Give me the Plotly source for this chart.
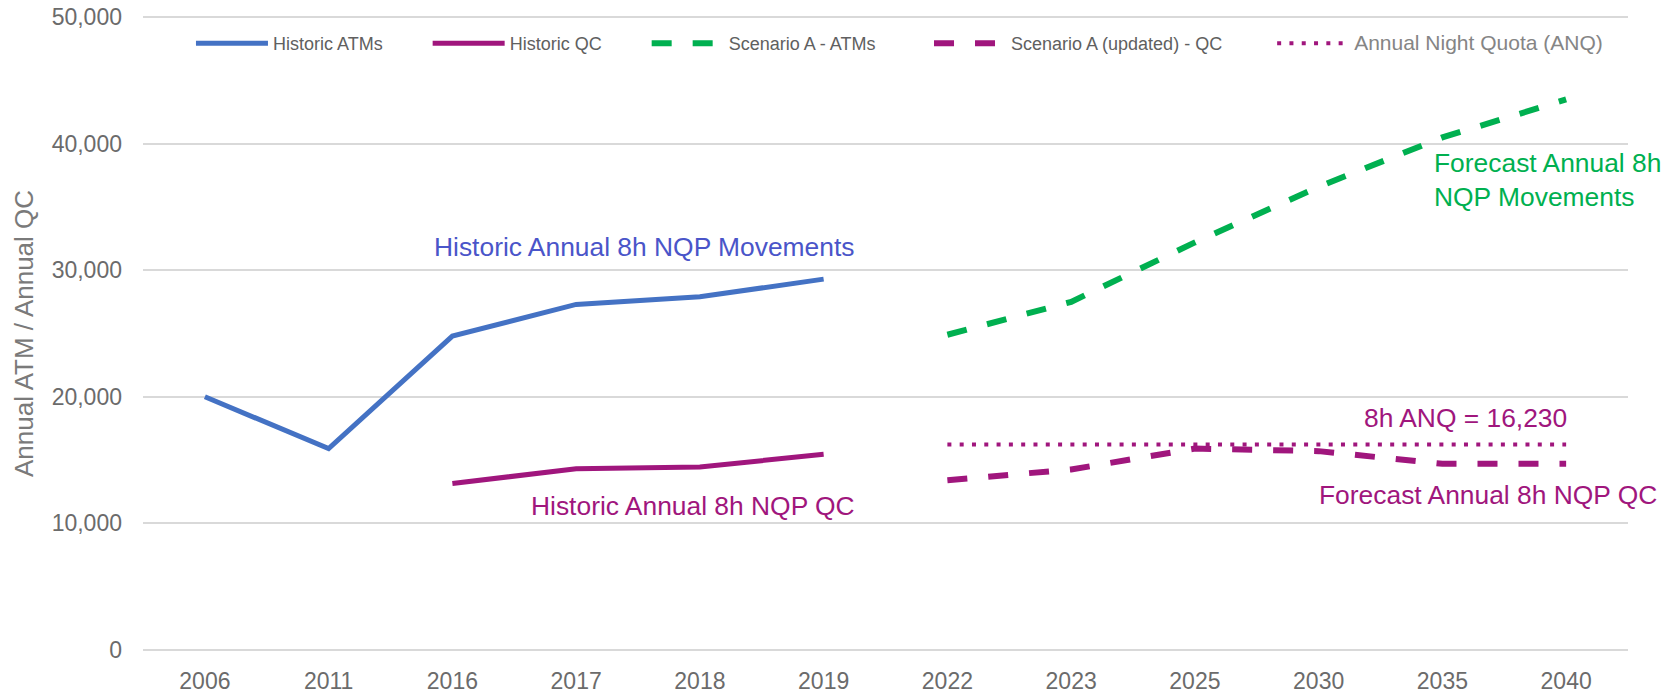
import plotly.graph_objects as go

years = ["2006", "2011", "2016", "2017", "2018", "2019",
         "2022", "2023", "2025", "2030", "2035", "2040"]

hist_years = ["2006", "2011", "2016", "2017", "2018", "2019"]
hist_atms = [20000, 15900, 24800, 27300, 27900, 29300]

hist_qc_years = ["2016", "2017", "2018", "2019"]
hist_qc = [13150, 14300, 14450, 15450]

fc_years = ["2022", "2023", "2025", "2030", "2035", "2040"]
scen_a_atms = [24900, 27500, 32200, 36600, 40500, 43500]
scen_a_qc = [13400, 14250, 15900, 15700, 14700, 14700]
anq = [16230, 16230, 16230, 16230, 16230, 16230]

BLUE = "#4472C4"
MAG = "#A0167D"
GREEN = "#00B050"
TXT_BLUE = "#4A55C9"
FONT = "Liberation Sans, Arial, sans-serif"
NB = "\u00a0"

fig = go.Figure()
fig.add_trace(go.Scatter(x=hist_years, y=hist_atms, mode="lines", name="Historic ATMs" + NB * 8,
                         line=dict(color=BLUE, width=5)))
fig.add_trace(go.Scatter(x=hist_qc_years, y=hist_qc, mode="lines", name="Historic QC" + NB * 8,
                         line=dict(color=MAG, width=5)))
fig.add_trace(go.Scatter(x=fc_years, y=scen_a_atms, mode="lines",
                         name="Scenario A - ATMs" + NB * 9 + "\u2009",
                         line=dict(color=GREEN, width=6, dash="20px,21px")))
fig.add_trace(go.Scatter(x=fc_years, y=scen_a_qc, mode="lines",
                         name="Scenario A (updated) - QC" + NB * 9,
                         line=dict(color=MAG, width=6, dash="20px,21px")))
fig.add_trace(go.Scatter(x=fc_years, y=anq, mode="lines",
                         name="<span style='font-size:21px;color:#858585'>Annual Night Quota (ANQ)</span>",
                         line=dict(color=MAG, width=4, dash="4px,8.3px")))

ann_font = dict(family=FONT, size=26.4)
annotations = [
    dict(x=5.26, y=31850, text="Historic Annual 8h NQP Movements", xanchor="right",
         font=dict(ann_font, color=TXT_BLUE)),
    dict(x=5.27, y=11400, text="Historic Annual 8h NQP QC", xanchor="right",
         font=dict(ann_font, color=MAG)),
    dict(x=9.92, y=37140, text="Forecast Annual 8h<br>NQP Movements", xanchor="left", align="left",
         font=dict(ann_font, color=GREEN)),
    dict(x=11.02, y=18300, text="8h ANQ = 16,230", xanchor="right",
         font=dict(ann_font, color=MAG)),
    dict(x=11, xshift=93, y=12250, text="Forecast Annual 8h NQP QC", xanchor="right",
         font=dict(ann_font, color=MAG)),
]
for a in annotations:
    a.update(xref="x", yref="y", showarrow=False, yanchor="middle")

fig.update_layout(
    width=1680, height=695,
    margin=dict(l=135, r=60, t=7.7, b=52.1, autoexpand=False),
    paper_bgcolor="white", plot_bgcolor="white",
    font=dict(family=FONT, color="#6b6b6b"),
    showlegend=True,
    legend=dict(orientation="h", x=0.0323, y=0.9565, xanchor="left", yanchor="middle",
                bgcolor="rgba(0,0,0,0)", font=dict(family=FONT, size=18, color="#606060"),
                itemwidth=72, traceorder="normal"),
    annotations=annotations,
    xaxis=dict(type="category", categoryorder="array", categoryarray=years,
               range=[-0.5, 11.5], showgrid=False, showline=False, zeroline=False,
               ticks="", tickfont=dict(family=FONT, size=23, color="#6b6b6b"),
               ticklabelstandoff=14, automargin=False),
    yaxis=dict(range=[-100, 50100], tickvals=[0, 10000, 20000, 30000, 40000, 50000],
               tickformat=",d", showgrid=True,
               gridcolor="#D9D9D9", gridwidth=1.6, zeroline=False, showline=False,
               ticks="", tickfont=dict(family=FONT, size=23, color="#6b6b6b"),
               ticklabelstandoff=20, ticklabeloverflow="allow", automargin=False,
               title=dict(text="Annual ATM / Annual QC", standoff=10,
                          font=dict(family=FONT, size=26, color="#7a7a7a"))),
)

fig.write_html("out.html")
